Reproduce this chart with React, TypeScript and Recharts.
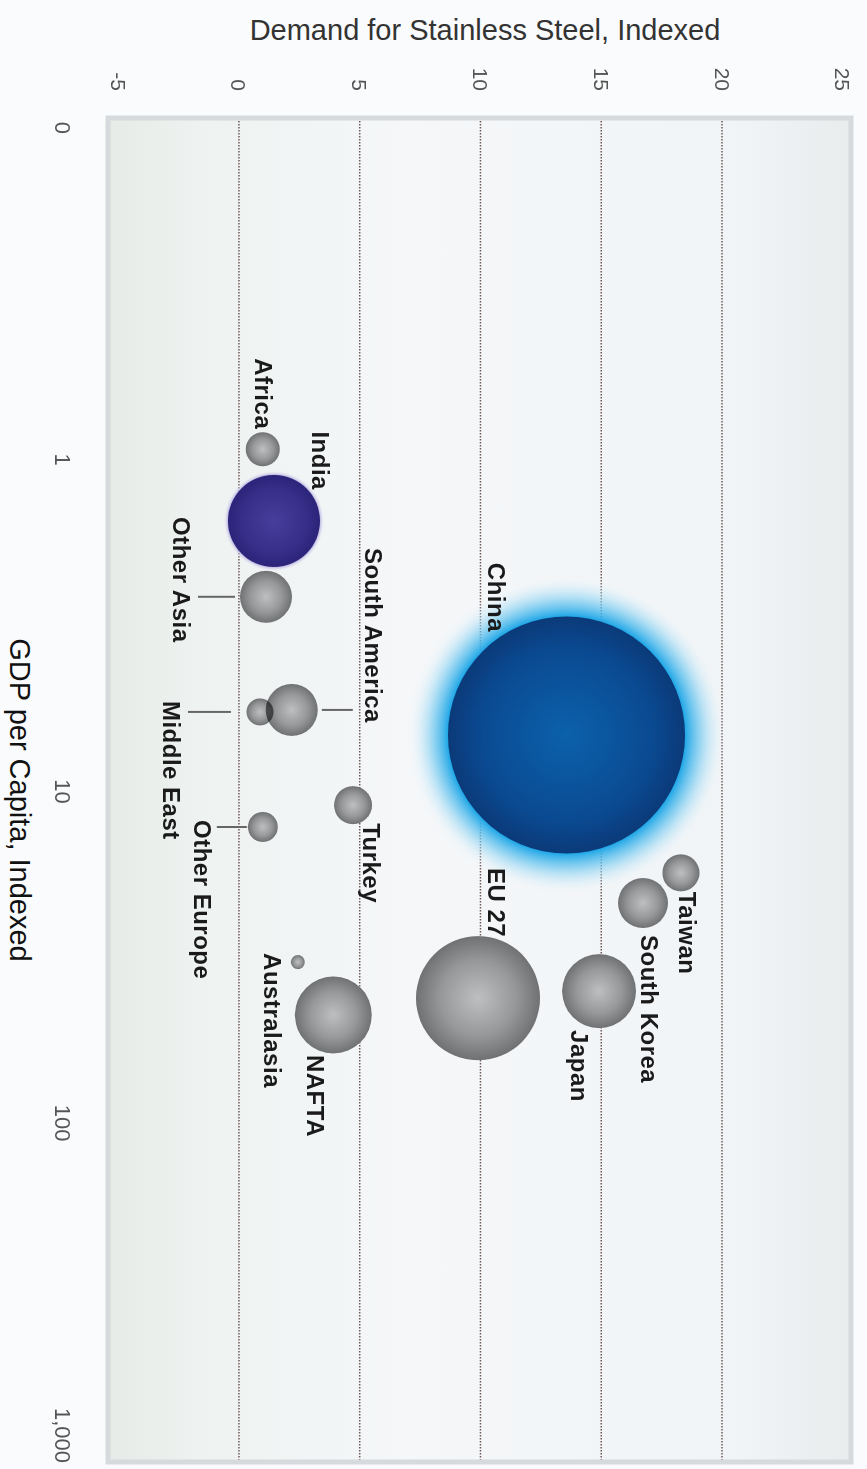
import { ScatterChart, Scatter, XAxis, YAxis, ZAxis, CartesianGrid, ReferenceArea } from "recharts";

// chart is drawn lying on its side (GDP along x, demand along y) and turned 90deg clockwise
const regions = [
  "China",
  "Africa",
  "India",
  "Other Asia",
  "South America",
  "Middle East",
  "Turkey",
  "Other Europe",
  "Taiwan",
  "South Korea",
  "Japan",
  "EU 27",
  "Australasia",
  "NAFTA",
];
const gdpPerCapita = [6.76, 0.93, 1.53, 2.59, 5.68, 5.76, 11.0, 12.8, 17.6, 21.7, 40.0, 42.0, 32.7, 47.2];
const steelDemand = [13.56, 0.99, 1.45, 1.12, 2.19, 0.87, 4.72, 0.99, 18.3, 16.73, 14.91, 9.9, 2.44, 3.91];
const marketSize = [100, 2.06, 15.07, 4.81, 4.81, 1.3, 2.57, 1.6, 2.44, 4.45, 9.75, 27.4, 0.35, 10.56];

const gdpTicks = [0.1, 1, 10, 100, 1000];
const demandTicks = [-5, 0, 5, 10, 15, 20, 25];
const gridValues = [0, 5, 10, 15, 20];

const data = regions.map((name, i) => ({
  name,
  gdp: gdpPerCapita[i],
  demand: steelDemand[i],
  size: marketSize[i],
}));

const GDP_DOMAIN = [0.0933, 1051];
const DEMAND_DOMAIN = [-5.42, 25.34];
const MAX_AREA = Math.PI * 118.5 * 118.5;

const FONT = "'Liberation Sans', Arial, Helvetica, sans-serif";

type LabelPos = { anchor: "start" | "middle" | "end"; dx: number; dy: number; line?: [number, number] };

const labelPos: Record<string, LabelPos> = {
  China: { anchor: "end", dx: -103, dy: 70 },
  Africa: { anchor: "end", dx: -20, dy: -1 },
  India: { anchor: "end", dx: -31, dy: -47 },
  "Other Asia": { anchor: "middle", dx: -17, dy: 84, line: [31, 68] },
  "South America": { anchor: "end", dx: 13, dy: -82, line: [-30, -61] },
  "Middle East": { anchor: "start", dx: -11, dy: 88, line: [29, 72] },
  Turkey: { anchor: "start", dx: 18, dy: -19 },
  "Other Europe": { anchor: "start", dx: -7, dy: 60, line: [16, 46] },
  Taiwan: { anchor: "start", dx: 19, dy: -7 },
  "South Korea": { anchor: "start", dx: 32, dy: -6 },
  Japan: { anchor: "start", dx: 39, dy: 20 },
  "EU 27": { anchor: "end", dx: -61, dy: -18 },
  Australasia: { anchor: "start", dx: -9, dy: 25 },
  NAFTA: { anchor: "start", dx: 40, dy: 18 },
};

function Bubble(props: any) {
  const { cx, cy, payload } = props;
  const r = props.width ? props.width / 2 : Math.sqrt(props.size / Math.PI);
  const name = payload.name;
  const lp = labelPos[name];
  const isChina = name === "China";
  const isIndia = name === "India";
  const fill = isChina ? "url(#chinaFill)" : isIndia ? "url(#indiaFill)" : "url(#greyFill)";
  return (
    <g>
      {isChina && <circle cx={cx} cy={cy} r={r + 42} fill="url(#chinaGlow)" />}
      {isIndia && <circle cx={cx} cy={cy} r={r + 5} fill="url(#indiaGlow)" />}
      <circle
        cx={cx}
        cy={cy}
        r={r}
        fill={fill}
        style={!isChina && !isIndia ? { mixBlendMode: "multiply" } : undefined}
      />
      {lp.line && (
        <line x1={cx} x2={cx} y1={cy + lp.line[0]} y2={cy + lp.line[1]} stroke="#666" strokeWidth={2} />
      )}
      <text
        x={cx + lp.dx}
        y={cy + lp.dy}
        textAnchor={lp.anchor}
        dominantBaseline="central"
        fontFamily={FONT}
        fontWeight="bold"
        fontSize={24}
        letterSpacing={0.5}
        fill="#1a1a1a"
      >
        {name}
      </text>
    </g>
  );
}

function GdpTick(props: any) {
  const v = props.payload.value;
  const last = v === 1000;
  const text = v < 1 ? "0" : v.toLocaleString("en-US");
  return (
    <text
      x={last ? 1463 : props.x}
      y={804}
      textAnchor={last ? "end" : "middle"}
      dominantBaseline="central"
      fontFamily={FONT}
      fontSize={22}
      fill="#555"
    >
      {text}
    </text>
  );
}

function DemandTick(props: any) {
  return (
    <text x={91} y={props.y} textAnchor="end" dominantBaseline="central" fontFamily={FONT} fontSize={21} fill="#555">
      {props.payload.value}
    </text>
  );
}

export default function App() {
  return (
    <div
      style={{
        position: "fixed",
        left: 0,
        top: 0,
        width: 867,
        height: 1469,
        overflow: "hidden",
        background: "#fafbfc",
      }}
    >
      <div
        style={{
          position: "absolute",
          left: 0,
          top: 0,
          width: 1469,
          height: 867,
          transformOrigin: "0 0",
          transform: "translateX(867px) rotate(90deg)",
        }}
      >
        <ScatterChart width={1469} height={867} margin={{ top: 16, right: 7, bottom: 0, left: 0 }}>
          <defs>
            <linearGradient id="plotBg" x1="0" y1="0" x2="0" y2="1">
              <stop offset="0" stopColor="#e9eced" />
              <stop offset="0.15" stopColor="#f1f4f6" />
              <stop offset="0.6" stopColor="#f5f7f9" />
              <stop offset="0.88" stopColor="#eef2f0" />
              <stop offset="1" stopColor="#e6ebe7" />
            </linearGradient>
            <radialGradient id="greyFill" cx="0.5" cy="0.5" r="0.5">
              <stop offset="0" stopColor="#bdbfc0" />
              <stop offset="0.6" stopColor="#96989a" />
              <stop offset="1" stopColor="#6f7173" />
            </radialGradient>
            <radialGradient id="chinaFill" cx="0.5" cy="0.5" r="0.5">
              <stop offset="0" stopColor="#0b61ab" />
              <stop offset="0.7" stopColor="#0a4b93" />
              <stop offset="1" stopColor="#0b3a79" />
            </radialGradient>
            <radialGradient id="chinaGlow" cx="0.5" cy="0.5" r="0.5">
              <stop offset="0" stopColor="#1ea6e6" />
              <stop offset="0.738" stopColor="#1ea6e6" />
              <stop offset="0.83" stopColor="#6cc6ef" stopOpacity={0.7} />
              <stop offset="1" stopColor="#ffffff" stopOpacity={0} />
            </radialGradient>
            <radialGradient id="indiaFill" cx="0.5" cy="0.5" r="0.5">
              <stop offset="0" stopColor="#463e9a" />
              <stop offset="0.7" stopColor="#362e88" />
              <stop offset="1" stopColor="#2b2479" />
            </radialGradient>
            <radialGradient id="indiaGlow" cx="0.5" cy="0.5" r="0.5">
              <stop offset="0.88" stopColor="#9d95d6" />
              <stop offset="1" stopColor="#ffffff" stopOpacity={0} />
            </radialGradient>
          </defs>
          <CartesianGrid
            vertical={false}
            horizontalValues={gridValues}
            fill="url(#plotBg)"
            fillOpacity={1}
            stroke="#6e5858"
            strokeDasharray="1.5 1.5"
            strokeWidth={1.5}
          />
          <ReferenceArea
            x1={GDP_DOMAIN[0]}
            x2={GDP_DOMAIN[1]}
            y1={DEMAND_DOMAIN[0]}
            y2={DEMAND_DOMAIN[1]}
            fill="none"
            stroke="#d6dadc"
            strokeWidth={5}
          />
          <XAxis
            dataKey="gdp"
            type="number"
            scale="log"
            domain={GDP_DOMAIN}
            ticks={gdpTicks}
            allowDataOverflow
            axisLine={false}
            tickLine={false}
            height={108}
            tick={<GdpTick />}
            label={{
              content: () => (
                <text x={800} y={847} textAnchor="middle" dominantBaseline="central" fontFamily={FONT} fontSize={29} fill="#111">
                  GDP per Capita, Indexed
                </text>
              ),
            }}
          />
          <YAxis
            dataKey="demand"
            type="number"
            domain={DEMAND_DOMAIN}
            ticks={demandTicks}
            allowDataOverflow
            axisLine={false}
            tickLine={false}
            width={118}
            tick={<DemandTick />}
            label={{
              content: () => (
                <text
                  x={30}
                  y={382}
                  transform="rotate(-90 30 382)"
                  textAnchor="middle"
                  dominantBaseline="central"
                  fontFamily={FONT}
                  fontSize={29}
                  fill="#333"
                >
                  Demand for Stainless Steel, Indexed
                </text>
              ),
            }}
          />
          <ZAxis dataKey="size" type="number" domain={[0, 100]} range={[0, MAX_AREA]} />
          <Scatter data={data} shape={<Bubble />} isAnimationActive={false} />
        </ScatterChart>
      </div>
    </div>
  );
}
